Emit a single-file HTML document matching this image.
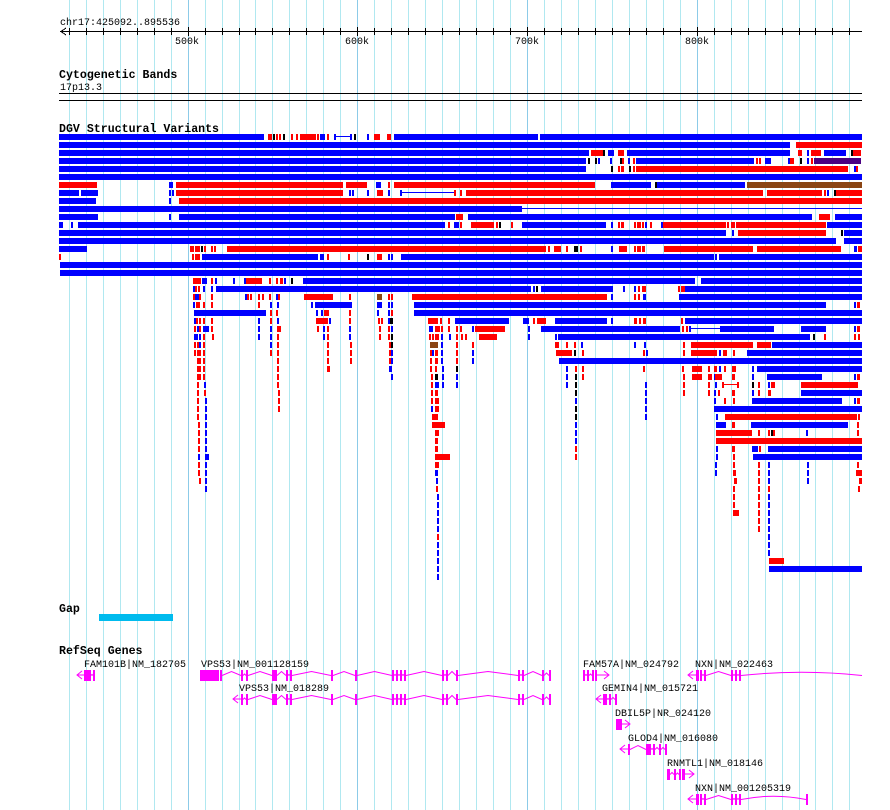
<!DOCTYPE html>
<html><head><meta charset="utf-8"><style>
html,body{margin:0;padding:0;background:#fff;width:890px;height:810px;overflow:hidden}
svg{display:block}
text{font-family:"Liberation Mono",monospace;font-size:10px;fill:#000}
.t{font-weight:bold;font-size:11.6px}
</style></head><body>
<svg id="s" width="890" height="810" xmlns="http://www.w3.org/2000/svg" shape-rendering="crispEdges">
<g id="grid"></g>
<text x="60" y="25">chr17:425092..895536</text>
<line x1="60" y1="31.5" x2="862" y2="31.5" stroke="#000"/>
<g id="ticks"></g>
<text x="175" y="44">500k</text>
<text x="345" y="44">600k</text>
<text x="515" y="44">700k</text>
<text x="685" y="44">800k</text>
<text class="t" x="59" y="78">Cytogenetic Bands</text>
<text x="60" y="90">17p13.3</text>
<rect x="59" y="93" width="803" height="1" fill="#000"/>
<rect x="59" y="100" width="803" height="1" fill="#000"/>
<text class="t" x="59" y="132">DGV Structural Variants</text>
<g id="dgv"></g>
<text class="t" x="59" y="612">Gap</text>
<rect x="99" y="614" width="74" height="7" fill="#00bbee"/>
<text class="t" x="59" y="654">RefSeq Genes</text>
<text x="84" y="667">FAM101B|NM_182705</text>
<text x="201" y="667">VPS53|NM_001128159</text>
<text x="239" y="691">VPS53|NM_018289</text>
<text x="583" y="667">FAM57A|NM_024792</text>
<text x="695" y="667">NXN|NM_022463</text>
<text x="602" y="691">GEMIN4|NM_015721</text>
<text x="615" y="716">DBIL5P|NR_024120</text>
<text x="628" y="741">GLOD4|NM_016080</text>
<text x="667" y="766">RNMTL1|NM_018146</text>
<text x="695" y="791">NXN|NM_001205319</text>
<g id="genes"></g>
</svg>
<script>
var NS="http://www.w3.org/2000/svg";
function el(p,n,a){var e=document.createElementNS(NS,n);for(var k in a)e.setAttribute(k,a[k]);document.getElementById(p).appendChild(e);return e;}
// grid
for(var k=-7;k<=39;k++){var x=Math.round(187.6+16.97*k);if(x<60||x>862)continue;
 el("grid","rect",{x:x,y:0,width:1,height:810,fill:(k%10==0)?"#8ccbe8":"#b0e8f0"});
 el("ticks","rect",{x:x,y:(k%10==0)?27:28,width:1,height:(k%10==0)?9:7,fill:"#000"});}
el("ticks","path",{d:"M66 28 L61 31.5 L66 35",stroke:"#000",fill:"none"});
var C={b:"#0000ff",r:"#ff0000",k:"#000000",n:"#8b4513",p:"#4b0082"};
var R=[
"b59-264 r268-272 k273-275 r276-278 r279-281 k283-284 r291-293 r296-298 r300-316 r317-319 b320-325 r327-329 b334-336 l336-350 b350-352 k354-356 b367-369 r374-380 r387-391 b394-538 b540-862",
"b59-790 r796-862",
"b59-589 r591-603 k603-605 b608-614 r618-624 b627-790 r798-802 b807-809 r811-821 b824-846 k851-853 r853-861",
"b59-586 k588-590 k595-597 b598-600 b610-612 k620-622 r622-624 b628-630 r633-635 b636-754 r756-758 r759-761 b765-771 b788-790 r790-794 k800-802 b807-809 r811-813 p814-861",
"b59-586 k611-613 r618-620 r621-624 k629-631 r633-635 r636-848 b854-856 r856-858",
"b59-862",
"r59-97 b169-173 r176-343 r346-367 b376-381 r388-390 r394-595 b611-651 k655-657 b657-745 n747-862",
"b59-79 b81-98 b169-171 b172-174 r176-343 b349-351 b352-353 b367-369 r377-383 b388-390 l400-455 b400-401 r454-456 r460-462 r466-763 r767-822 r824-826 b827-829 k834-836 r836-862",
"b59-96 b169-171 r179-862",
"b59-522 l522-862",
"b59-98 b169-171 b179-455 r456-460 r460-463 b468-812 r819-830 b835-862",
"b59-63 b71-73 b78-445 r448-450 b454-459 r460-462 r471-494 r496-498 k499-501 r511-513 b522-606 b611-613 r618-619 r621-624 r634-636 r637-641 r642-644 b645-647 r650-652 b661-663 r663-726 r727-729 r731-735 r736-826 b827-862",
"b59-726 b732-734 r738-826 k841-843 b844-862",
"b59-836 b844-862",
"b59-87 r190-194 r195-200 k201-203 r204-206 r211-213 r214-216 r227-546 r548-549 r554-561 r566-568 k574-578 r580-582 b611-613 r619-627 r634-636 r637-641 r642-645 r664-753 r757-841 b854-857 r858-862",
"r59-60 r192-194 r195-200 b202-318 b320-324 r327-329 r348-350 k367-369 r377-382 b388-389 b391-392 b401-714 b715-717 b719-862",
"b60-862",
"b60-862",
"r193-201 b202-207 r211-213 b215-217 b233-235 b244-246 r246-262 r269-271 r276-278 r280-283 b284-286 k291-293 b303-695 b701-862",
"b193-195 r195-197 r198-200 b203-205 b211-213 b216-531 b533-535 k536-538 b541-613 b623-625 b634-636 r638-640 r642-646 r678-680 r681-685 b685-862",
"r193-195 b195-199 r199-200 r211-213 b245-247 r247-249 r250-252 r258-260 r262-264 r269-271 b276-278 r278-280 r304-333 r349-351 n377-382 r388-390 r391-393 r412-607 b611-613 r634-636 r638-640 b643-646 b679-862",
"b193-195 r196-200 r203-205 r211-213 r258-260 b270-272 b277-279 b311-313 b315-352 b377-382 b388-390 b391-393 b414-826 b854-856 r857-860",
"b194-266 r270-272 r276-278 b316-318 b321-323 r324-329 r349-351 b377-379 b388-390 r391-392 b414-862",
"b194-196 r196-198 r199-201 r203-205 r211-213 b258-260 r270-272 b277-279 r316-328 b329-331 r349-351 r378-380 r381-383 b388-390 k390-393 r428-438 r440-442 r448-450 b455-509 b523-529 r533-535 r537-546 b555-607 b611-613 r634-637 r639-641 r643-646 r681-683 b685-862",
"r194-196 b197-199 r199-201 b203-209 r211-213 b258-260 b270-272 r277-281 r317-319 b323-325 r327-329 b349-351 r379-381 r388-390 b391-393 b429-433 r435-440 r441-443 r448-450 r456-458 r460-462 b472-474 r475-505 b528-530 b541-680 r682-684 r686-688 b689-691 l691-720 b720-774 b801-826 b854-856 r857-860",
"b194-198 b199-201 r203-205 r212-214 b258-260 b270-272 r277-279 b323-325 r327-329 b349-351 r379-381 r388-390 k391-393 r429-431 r432-434 r435-439 b441-443 b449-451 r456-458 r461-463 r465-467 r479-497 b528-530 b555-557 b558-810 k813-815 r824-826 r854-856 r858-860",
"r194-196 r197-199 b199-201 r203-205 b270-272 r277-279 r327-329 r350-352 r389-391 k391-393 n430-438 b441-443 r456-458 r472-474 r555-559 r566-568 r574-576 b581-583 b634-636 b644-646 r683-685 r691-753 r757-771 b772-862",
"r194-196 r197-201 r203-205 r270-272 r277-279 r327-329 r350-352 r389-391 b391-393 r430-432 b432-434 r435-438 b441-443 r456-458 b472-474 r556-572 k574-576 r582-584 r643-645 b646-648 r683-685 r691-717 b719-721 r723-727 r733-735 b747-862",
"r197-201 r203-205 r277-279 r327-329 r350-352 r389-391 b391-393 r430-432 r435-438 b441-443 r456-458 b472-474 b559-862",
"r197-201 r203-205 r277-279 r327-330 b389-392 r430-432 r435-437 b442-444 k456-458 b566-568 r575-577 r582-584 r643-645 r682-684 r692-702 r708-710 r714-717 b719-721 r724-726 r732-736 b752-754 b757-862",
"r197-201 r203-205 r277-279 b391-393 r431-433 k435-438 b442-444 b456-458 b566-568 k575-577 r582-584 r683-685 r692-702 r708-712 b714-716 r715-722 r732-735 b752-754 b767-822 b854-856 r857-860",
"r197-199 b204-206 r277-279 r431-433 b435-439 b442-444 b456-458 b566-568 k575-577 b645-647 r683-685 r708-710 b715-717 r722-724 m724-737 r737-739 k752-754 r758-760 b768-770 r771-775 r801-858",
"r197-199 r204-206 r278-280 r431-433 r435-438 k575-577 b645-647 r683-685 r708-710 b714-716 r718-720 r732-735 b752-754 r758-760 r768-771 b801-862",
"r197-199 b205-207 r278-280 r431-433 r435-439 b575-577 b645-647 b714-716 r724-726 r733-735 b752-842 b854-856 r857-860",
"r197-199 b205-207 r278-280 b431-433 r435-439 k575-577 b645-647 b714-862",
"r197-199 b205-207 r432-438 k575-577 b645-647 b716-718 r725-857 r858-860",
"r198-200 b205-207 r432-445 b575-577 b716-726 r732-735 b751-848 r857-859",
"r198-200 b205-207 r435-439 b575-577 r716-752 r758-760 r768-770 k771-773 r773-775 b806-808 r857-859",
"r198-200 b205-207 r435-438 b575-577 r716-862",
"r198-200 b205-207 r435-438 r575-577 b716-718 r732-735 b752-758 r759-761 b768-862",
"b198-200 b205-209 r435-450 r575-577 b716-718 r733-735 b753-862",
"r198-200 b205-207 r435-439 b715-717 r733-735 r758-760 b768-770 b807-809 r857-859",
"r198-200 b205-207 b435-438 b715-717 r733-736 r758-760 b768-770 b807-809 r856-862",
"r199-201 b205-207 b436-438 r734-737 r758-760 b768-770 b807-809 r859-862",
"b205-207 r436-438 r733-735 r758-760 r768-770 r858-860",
"b437-439 r733-735 r758-760 b768-770",
"b437-439 r733-735 r758-760 b768-770",
"b437-439 r733-739 r758-760 b768-770",
"b437-439 r758-760 b768-770",
"b437-439 r758-760 b768-770",
"r437-439 b768-770",
"b437-439 b768-770",
"b437-439 b768-770",
"b437-439 r769-784",
"b437-439 b769-862",
"b437-439"
];
R.forEach(function(row,i){var y=134+8*i;row.split(" ").forEach(function(t){
 var c=t[0],m=t.slice(1).split("-"),a=+m[0],b=+m[1];
 if(c=="l"||c=="m"){el("dgv","rect",{x:a,y:y+2,width:b-a,height:1,fill:c=="l"?C.b:C.r});}
 else el("dgv","rect",{x:a,y:y,width:Math.max(2,b-a),height:6,fill:C[c]});});});
// genes
var M="#ff00ff";
function gene(cy,ex,opt){opt=opt||{};
 var g="genes";
 if(opt.left!=null){el(g,"path",{d:"M"+opt.left+" "+cy+" H"+ex[0][0]+" M"+(opt.left+5)+" "+(cy-4)+" L"+opt.left+" "+cy+" L"+(opt.left+5)+" "+(cy+4),stroke:M,fill:"none","shape-rendering":"auto"});}
 if(opt.right!=null){var e=ex[ex.length-1][1];el(g,"path",{d:"M"+e+" "+cy+" H"+opt.right+" M"+(opt.right-5)+" "+(cy-4)+" L"+opt.right+" "+cy+" L"+(opt.right-5)+" "+(cy+4),stroke:M,fill:"none","shape-rendering":"auto"});}
 for(var i=0;i<ex.length;i++){var e=ex[i];el(g,"rect",{x:e[0],y:cy-5,width:Math.max(2,e[1]-e[0]),height:11,fill:M});
  if(i<ex.length-1){var a=e[1],b=ex[i+1][0];if(b-a>1){var mid=(a+b)/2,h=Math.min(4,(b-a)/2);
   el(g,"path",{d:"M"+a+" "+(cy+0.5)+" L"+mid+" "+(cy+0.5-h)+" L"+b+" "+(cy+0.5),stroke:M,fill:"none","shape-rendering":"auto"});}}}
 if(opt.tail){var e=ex[ex.length-1][1];el(g,"path",{d:"M"+e+" "+(cy+0.5)+" Q"+((e+opt.tail)/2)+" "+(cy-6)+" "+opt.tail+" "+(cy+0.5),stroke:M,fill:"none","shape-rendering":"auto"});}
}
var vps=[[241,243],[246,248],[272,277],[286,288],[290,292],[331,333],[355,357],[392,394],[396,398],[400,402],[404,406],[442,444],[446,448],[456,458],[518,520],[522,524],[542,544],[549,551]];
gene(675,[[84,91],[93,95]],{left:77});
gene(675,[[200,219],[220,222]].concat(vps));
gene(699,vps,{left:233});
gene(675,[[583,585],[587,589],[592,594],[595,597]],{right:609});
gene(675,[[696,699],[700,702],[704,706],[731,733],[735,737],[739,741]],{left:688,tail:862});
gene(699,[[603,607],[609,611],[615,617]],{left:596});
gene(724,[[616,622]],{right:630});
gene(749,[[628,630],[646,651],[653,655],[659,661],[665,667]],{left:620});
gene(774,[[667,670],[674,676],[679,681],[682,685]],{right:694});
gene(799,[[696,699],[700,702],[704,706],[731,733],[735,737],[739,741]],{left:688,tail:806});
el("genes","rect",{x:806,y:794,width:2,height:11,fill:M});
</script>
</body></html>
